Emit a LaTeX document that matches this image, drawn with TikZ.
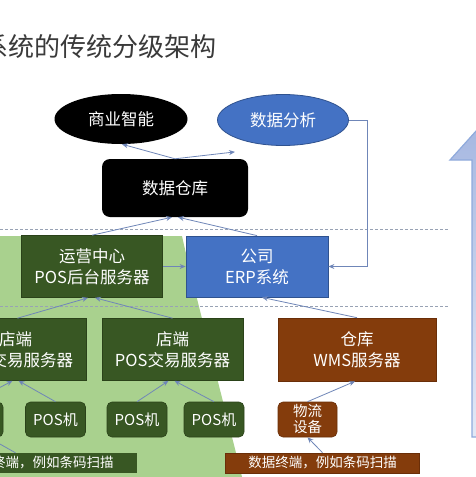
\documentclass[tikz,border=0pt]{standalone}
\usepackage{fontspec}
\setmainfont{Noto Sans CJK SC}
\usetikzlibrary{arrows.meta,shapes.geometric}
\definecolor{dkgreen}{HTML}{385723}
\definecolor{dkgreenb}{HTML}{2A4219}
\definecolor{lgreen}{HTML}{A9D18E}
\definecolor{mblue}{HTML}{4472C4}
\definecolor{mblueb}{HTML}{2F528F}
\definecolor{brown}{HTML}{843C0C}
\definecolor{brownb}{HTML}{6A2E08}
\definecolor{conn}{HTML}{6F86B8}
\definecolor{dashc}{HTML}{98A2B4}
\definecolor{titlec}{HTML}{3A3A3A}
\definecolor{arrtop}{HTML}{A3B5E0}
\definecolor{arrbot}{HTML}{E3E9F6}
\definecolor{arrdraw}{HTML}{8FAADC}
\tikzset{
  lbl/.style={text=white, align=center, inner sep=0pt},
  bigtext/.style={font=\fontsize{16.5}{21}\selectfont},
  gbox/.style={lbl, bigtext, rectangle, fill=dkgreen, draw=dkgreenb, line width=0.6pt, minimum width=141pt, minimum height=62pt},
  bbox/.style={lbl, bigtext, rectangle, fill=mblue, draw=mblueb, line width=0.8pt, minimum width=142pt, minimum height=61pt},
  rbox/.style={lbl, bigtext, rectangle, fill=brown, draw=brownb, line width=0.6pt, minimum width=158pt, minimum height=63pt},
  posbox/.style={lbl, font=\fontsize{15}{17}\selectfont, rectangle, rounded corners=5pt, fill=dkgreen, draw=dkgreenb, line width=0.6pt, minimum width=60pt, minimum height=35pt},
  wlbox/.style={lbl, font=\fontsize{14.5}{16}\selectfont, rectangle, rounded corners=5pt, fill=brown, draw=brownb, line width=0.6pt, minimum width=59pt, minimum height=35pt},
  barbox/.style={lbl, font=\fontsize{13.5}{15}\selectfont, rectangle, minimum width=194pt, minimum height=20pt},
  ell/.style={lbl, bigtext, ellipse, minimum width=133pt, minimum height=50pt},
  arr/.style={draw=conn, line width=0.8pt, -{Stealth[length=6pt,width=5pt]}},
  sep/.style={draw=dashc, line width=0.8pt, dash pattern=on 3pt off 2pt},
}
\begin{document}
\begin{tikzpicture}[x=1pt,y=-1pt]
\useasboundingbox (0,0) rectangle (476,477);
\fill[white] (0,0) rectangle (476,477);
\clip (0,0) rectangle (476,477);

% light green area
\fill[lgreen] (0,236) -- (182,236) .. controls (192,282) and (228,420) .. (242,477) -- (0,477) -- cycle;

% separators
\draw[sep] (0,229) -- (448,229);
\draw[sep] (0,306) -- (448,306);

% big arrow on the right
\shade[top color=arrtop, bottom color=arrbot, draw=arrdraw, line width=1.2pt]
  (472,437) -- (472,160) -- (450,160) -- (495,110) -- (540,160) -- (518,160) -- (518,437) -- cycle;

% title
\node[anchor=west, inner sep=0pt, text=titlec, font=\fontsize{26}{30}\selectfont] (title) at (-18,47) {系统的传统分级架构};

% top level
\node[ell, fill=black] (bi) at (121,119) {商业智能};
\node[ell, fill=mblue, draw=mblueb, line width=0.8pt, minimum width=131pt, minimum height=51pt] (da) at (283,120) {数据分析};
\node[lbl, bigtext, rectangle, rounded corners=8pt, fill=black, minimum width=146pt, minimum height=58pt] (wh) at (175,188) {数据仓库};

% second level
\node[gbox] (ops) at (92,266.5) {运营中心\\POS后台服务器};
\node[bbox] (erp) at (257,266.5) {公司\\ERP系统};

% third level
\node[gbox] (st1) at (15.5,349.5) {店端\\POS交易服务器};
\node[gbox] (st2) at (172.5,349.5) {店端\\POS交易服务器};
\node[rbox] (wms) at (357,349.5) {仓库\\WMS服务器};

% fourth level
\node[posbox] (p1) at (-27,419.5) {POS机};
\node[posbox] (p2) at (55.5,419.5) {POS机};
\node[posbox] (p3) at (137,419.5) {POS机};
\node[posbox] (p4) at (214,419.5) {POS机};
\node[wlbox] (wl) at (307.5,419.5) {物流\\设备};

% bottom bars
\node[barbox, fill=dkgreen] (bar1) at (39.5,463) {数据终端，例如条码扫描};
\node[barbox, fill=brown, draw=brownb, line width=0.6pt] (bar2) at (322.5,463) {数据终端，例如条码扫描};

% connectors
\draw[arr] (wh.north) -- ([xshift=1pt]bi.south);
\draw[arr] (wh.north) -- ([xshift=-48pt,yshift=-6pt]da.south);
\draw[arr] (da.east) -- ++(18,0) |- (erp.east);
\draw[arr] (ops.north) -- ([xshift=-3pt]wh.south);
\draw[arr] (erp.north) -- ([xshift=3pt]wh.south);
\draw[arr] (ops.east) -- (erp.west);
\draw[arr] ([xshift=2pt]st1.north) -- ([xshift=-4pt]ops.south);
\draw[arr] (st2.north) -- ([xshift=3pt]ops.south);
\draw[arr] (wms.north) -- ([xshift=5pt]erp.south);
\draw[arr] (p1.north) -- ([xshift=-3pt]st1.south);
\draw[arr] (p2.north) -- ([xshift=3pt]st1.south);
\draw[arr] (p3.north) -- ([xshift=-4pt]st2.south);
\draw[arr] (p4.north) -- ([xshift=2pt]st2.south);
\draw[arr] (wl.north) -- ([xshift=-2pt]wms.south);
\draw[arr] ([xshift=-24pt]bar1.north) -- ([xshift=15pt]p1.south);
\draw[arr] (bar2.north) -- (wl.south);
\end{tikzpicture}
\end{document}
